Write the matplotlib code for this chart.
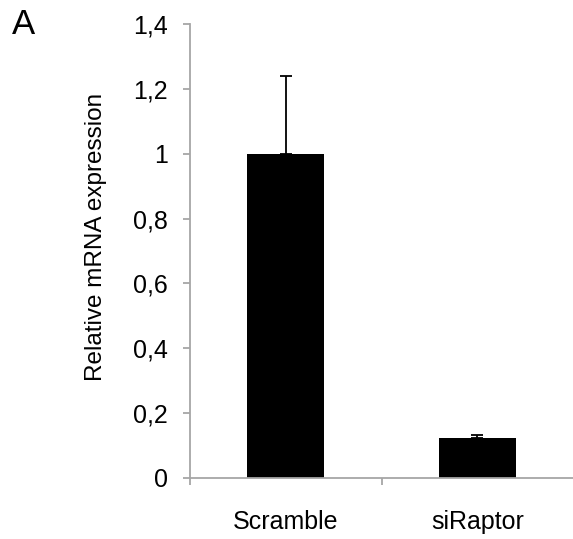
import matplotlib
matplotlib.use("Agg")
import matplotlib.pyplot as plt

# data
categories = ["Scramble", "siRaptor"]
values = [1.0, 0.123]
errors = [0.24, 0.01]
yticks = [0, 0.2, 0.4, 0.6, 0.8, 1.0, 1.2, 1.4]
ytick_labels = ["0", "0,2", "0,4", "0,6", "0,8", "1", "1,2", "1,4"]

plt.rcParams["font.family"] = ["Liberation Sans", "DejaVu Sans"]
axis_grey = "#a6a6a6"

fig = plt.figure(figsize=(5.73, 5.39), dpi=100)
ax = fig.add_axes([0.3316, 0.1132, 0.6684, 0.8423])

x = list(range(len(categories)))
ax.bar(x, values, width=0.4, color="black", zorder=2)
ax.errorbar(x, values, yerr=[[0, 0], errors], fmt="none", ecolor="black",
            elinewidth=1.3, capsize=4, capthick=1.3, zorder=3)

ax.set_xlim(-0.5, 1.5)
ax.set_ylim(0, 1.4)
ax.set_yticks(yticks)
ax.set_yticklabels(ytick_labels, fontsize=18)
ax.set_xticks(x)
ax.set_xticklabels(categories, fontsize=18)
ax.tick_params(axis="x", length=0, pad=23)
ax.set_xticks([-0.5, 0.5], minor=True)
ax.tick_params(axis="x", which="minor", length=5, width=1.3, color=axis_grey)
ax.tick_params(axis="y", length=5, width=1.3, color=axis_grey, pad=11)

for side in ["top", "right"]:
    ax.spines[side].set_visible(False)
for side in ["left", "bottom"]:
    ax.spines[side].set_color(axis_grey)
    ax.spines[side].set_linewidth(1.3)

ax.set_ylabel("Relative mRNA expression", fontsize=17.5, va="center")
ax.yaxis.set_label_coords(-0.245, 0.53)
fig.text(0.021, 0.937, "A", fontsize=25, ha="left", va="baseline")

fig.savefig("out.png", dpi=100)
